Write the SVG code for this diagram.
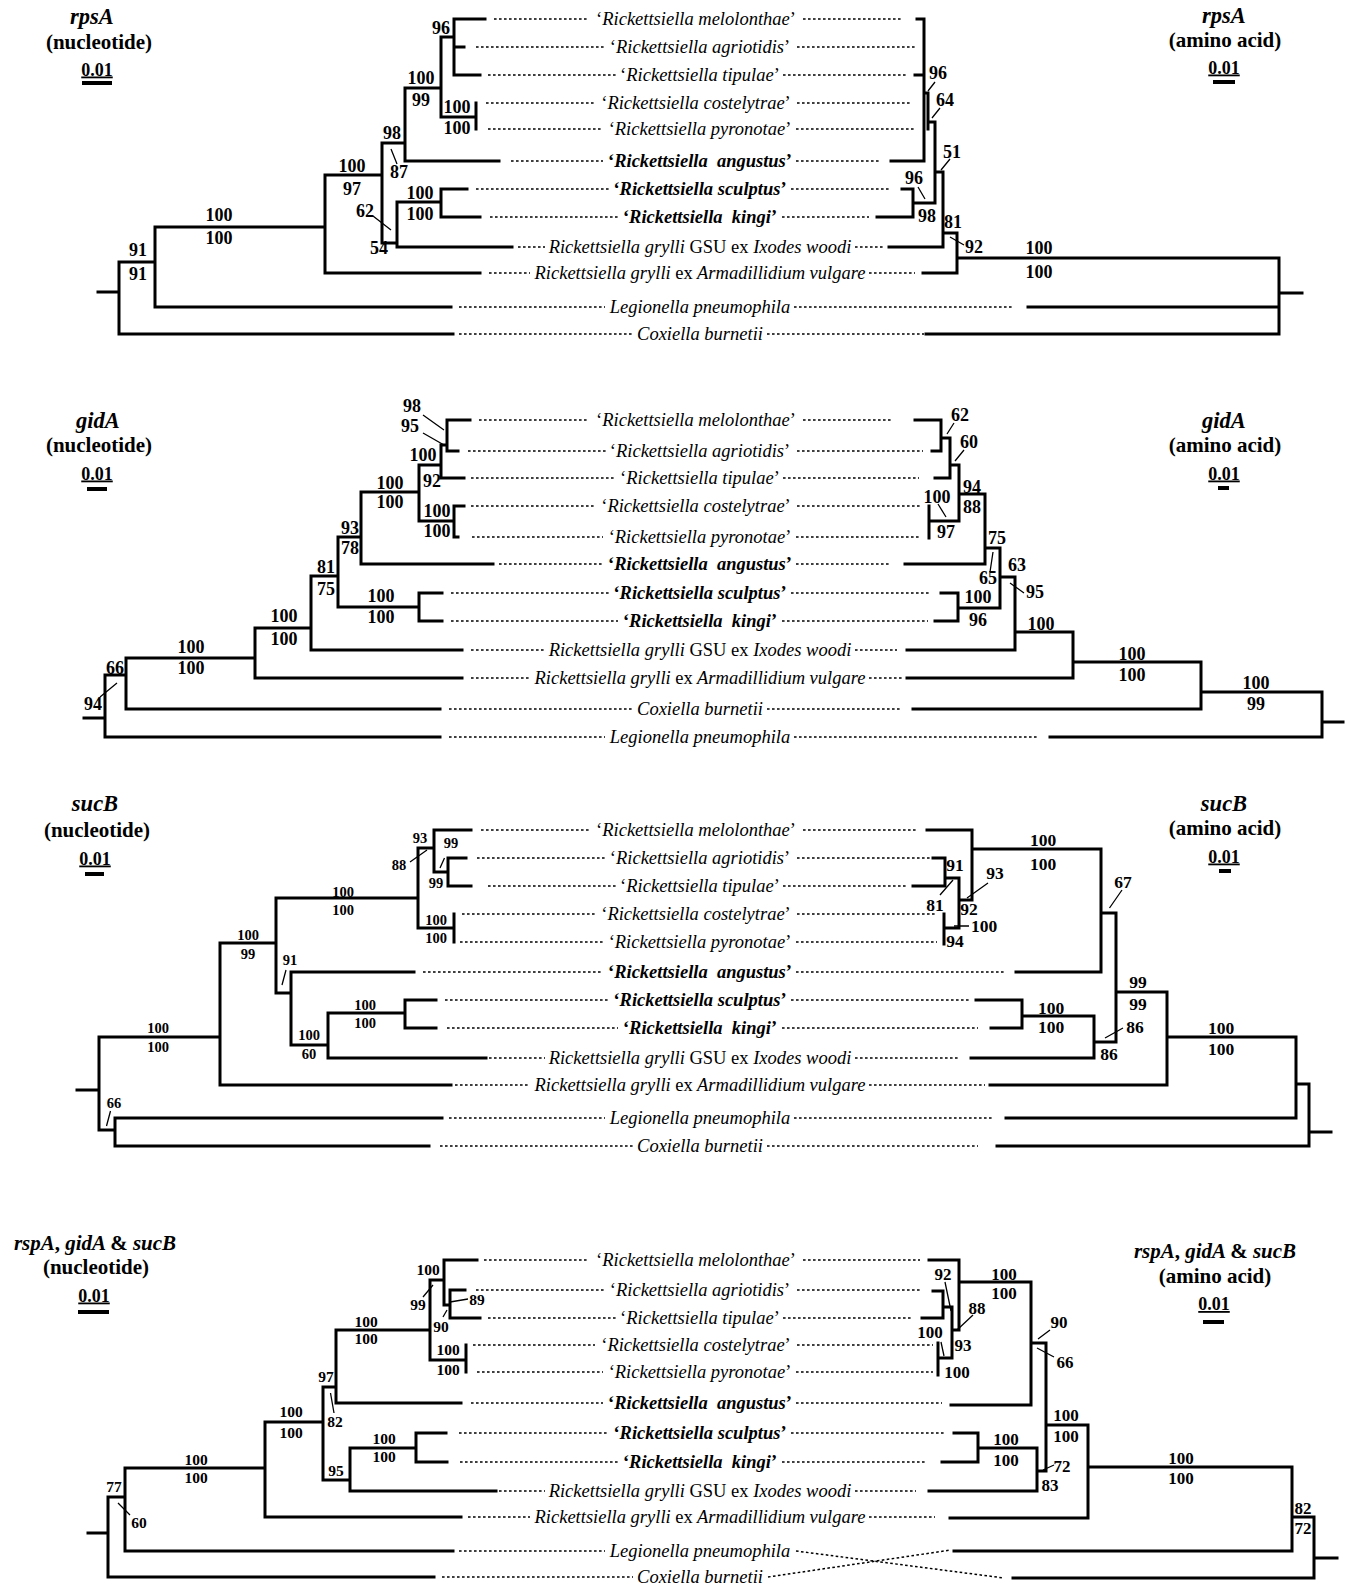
<svg xmlns="http://www.w3.org/2000/svg" width="1351" height="1584" viewBox="0 0 1351 1584">
<style>
.br{fill:none;stroke:#000;stroke-width:3;stroke-linecap:square}
.dt{fill:none;stroke:#000;stroke-width:1.5;stroke-dasharray:2.6 2.4}
.ld{fill:none;stroke:#000;stroke-width:1.3}
.bar{stroke:#000;stroke-width:4}
.tx{font-family:"Liberation Serif","Times New Roman",serif;font-size:18.5px;font-style:italic;text-anchor:middle}
.b{font-weight:bold}
.up{font-style:normal}
.n{font-family:"Liberation Serif","Times New Roman",serif;font-weight:bold;font-size:18px;text-anchor:middle}
.n3{font-size:14.5px}
.n4{font-size:15.5px}
.n4r{font-size:17px}
.n3r{font-size:17.5px}
.ti{font-family:"Liberation Serif","Times New Roman",serif;font-weight:bold;font-size:21px;text-anchor:middle}
.it{font-style:italic}
.gn{font-size:22.5px}
.sc{font-family:"Liberation Serif","Times New Roman",serif;font-weight:bold;font-size:18px;text-anchor:middle;text-decoration:underline}
</style>
<rect width="1351" height="1584" fill="#fff"/>

<!-- ================= PANEL 1 : rpsA ================= -->
<g id="panel-rpsA">
<g id="p1-titles">
<text class="ti it gn" x="92" y="24">rpsA</text>
<text class="ti" x="99" y="49">(nucleotide)</text>
<text class="sc" x="97" y="75.5">0.01</text>
<line class="bar" x1="82" y1="83" x2="112" y2="83"/>
<text class="ti it gn" x="1224" y="23">rpsA</text>
<text class="ti" x="1225" y="47">(amino acid)</text>
<text class="sc" x="1224" y="73.5">0.01</text>
<line class="bar" x1="1213" y1="82" x2="1235" y2="82"/>
</g>
<g id="p1-connectors">
<path class="br" d="M98 292H119 M119 262V334 M119 334H453 M119 262H155 M155 227V307 M155 307H451 M155 227H325 M325 175V273 M325 273H480 M325 175H382 M382 143V243 M382 243H397 M397 202V247 M397 247H512 M397 202H441 M441 189V217 M441 189H467 M441 217H480 M382 143H405 M405 88V161 M405 161H499 M405 88H441 M441 37V117 M441 117H476 M476 103V129 M441 37H454 M454 19V75 M454 19H485 M454 47H464 M454 75H480"/>
<path class="br" d="M917 19H924 M924 19V161 M915 75H924 M891 161H924 M924 93H928 M928 93V129 M928 122H935 M935 122V203 M913 203H935 M913 189V217 M902 189H913 M877 217H913 M935 172H943 M943 172V247 M889 247H943 M943 233H957 M957 233V273 M923 273H957 M957 258H1279 M1279 258V334 M1028 307H1279 M926 334H1279 M1279 293H1302"/>
<path class="dt" d="M494 19H589 M803 19H902 M476 47H606 M797 47H917 M488 75H616 M783 75H907 M486 103H595 M797 103H911 M488 129H603 M796 129H915 M511 161H603 M796 161H880 M476 189H609 M791 189H889 M490 217H618 M782 217H869 M518 247H545 M855 247H885 M489 273H530 M869 273H915 M459 307H605 M794 307H1013 M459 334H633 M767 334H924"/>
<path class="ld" d="M391 149L397 164 M373 216L391 230 M935 82L928 91 M940 108L932 118 M950 159L941 170 M918 187L925 199 M950 237L964 245"/>
</g>
<g id="p1-taxa">
<g id="p1-mel"><text class="tx" x="696" y="25"><tspan class="up">‘</tspan>Rickettsiella melolonthae<tspan class="up">’</tspan></text></g>
<g id="p1-agr"><text class="tx" x="700" y="53"><tspan class="up">‘</tspan>Rickettsiella agriotidis<tspan class="up">’</tspan></text></g>
<g id="p1-tip"><text class="tx" x="700" y="81"><tspan class="up">‘</tspan>Rickettsiella tipulae<tspan class="up">’</tspan></text></g>
<g id="p1-cos"><text class="tx" x="696" y="109"><tspan class="up">‘</tspan>Rickettsiella costelytrae<tspan class="up">’</tspan></text></g>
<g id="p1-pyr"><text class="tx" x="700" y="135"><tspan class="up">‘</tspan>Rickettsiella pyronotae<tspan class="up">’</tspan></text></g>
<g id="p1-ang"><text class="tx b" x="700" y="167"><tspan class="up">‘</tspan>Rickettsiella&#160; angustus<tspan class="up">’</tspan></text></g>
<g id="p1-scu"><text class="tx b" x="700" y="195"><tspan class="up">‘</tspan>Rickettsiella sculptus<tspan class="up">’</tspan></text></g>
<g id="p1-kin"><text class="tx b" x="700" y="223"><tspan class="up">‘</tspan>Rickettsiella&#160; kingi<tspan class="up">’</tspan></text></g>
<g id="p1-gsu"><text class="tx" x="700" y="253">Rickettsiella grylli <tspan class="up">GSU ex</tspan> Ixodes woodi</text></g>
<g id="p1-arm"><text class="tx" x="700" y="279">Rickettsiella grylli <tspan class="up">ex</tspan> Armadillidium vulgare</text></g>
<g id="p1-leg"><text class="tx" x="700" y="313">Legionella pneumophila</text></g>
<g id="p1-cox"><text class="tx" x="700" y="340">Coxiella burnetii</text></g>
</g>
<g id="p1-support">
<text class="n" x="138" y="256">91</text><text class="n" x="138" y="280">91</text>
<text class="n" x="219" y="221">100</text><text class="n" x="219" y="244">100</text>
<text class="n" x="352" y="172">100</text><text class="n" x="352" y="195">97</text>
<text class="n" x="392" y="139">98</text><text class="n" x="399" y="178">87</text>
<text class="n" x="365" y="217">62</text><text class="n" x="379" y="254">54</text>
<text class="n" x="420" y="199">100</text><text class="n" x="420" y="220">100</text>
<text class="n" x="421" y="84">100</text><text class="n" x="421" y="106">99</text>
<text class="n" x="457" y="113">100</text><text class="n" x="457" y="134">100</text>
<text class="n" x="441" y="34">96</text>
<text class="n" x="938" y="79">96</text>
<text class="n" x="945" y="106">64</text>
<text class="n" x="952" y="158">51</text>
<text class="n" x="914" y="184">96</text>
<text class="n" x="927" y="222">98</text>
<text class="n" x="953" y="228">81</text>
<text class="n" x="974" y="253">92</text>
<text class="n" x="1039" y="254">100</text><text class="n" x="1039" y="278">100</text>
</g>
</g>

<!-- ================= PANEL 2 : gidA ================= -->
<g id="panel-gidA">
<g id="p2-titles">
<text class="ti it gn" x="98" y="428">gidA</text>
<text class="ti" x="99" y="452">(nucleotide)</text>
<text class="sc" x="97" y="479.5">0.01</text>
<line class="bar" x1="87" y1="489" x2="107" y2="489"/>
<text class="ti it gn" x="1224" y="428">gidA</text>
<text class="ti" x="1225" y="452">(amino acid)</text>
<text class="sc" x="1224" y="479.5">0.01</text>
<line class="bar" x1="1218" y1="488" x2="1229" y2="488"/>
</g>
<g id="p2-connectors">
<path class="br" d="M84 718H105 M105 675V737 M105 737H440 M105 675H126 M126 658V709 M126 709H440 M126 658H255 M255 628V678 M255 678H462 M255 628H311 M311 576V650 M311 650H462 M311 576H338 M338 537V607 M338 607H419 M419 593V621 M419 593H442 M419 621H442 M338 537H361 M361 492V564 M361 564H493 M361 492H419 M419 465V521 M419 521H454 M454 506V537 M454 506H464 M454 537H458 M419 465H441 M441 445V478 M441 478H464 M441 445H447 M447 420V451 M447 420H470 M447 451H458"/>
<path class="br" d="M915 420H941 M941 420V451 M932 451H941 M941 438H950 M950 438V478 M935 478H950 M950 465H959 M959 465V521 M929 506V538 M929 521H959 M959 494H985 M985 494V564 M905 564H985 M985 548H1000 M1000 548V608 M941 593H958 M935 621H958 M958 593V621 M958 608H1000 M1000 577H1015 M1015 577V650 M907 650H1015 M1015 632H1073 M1073 632V678 M907 678H1073 M1073 662H1201 M1201 662V709 M913 709H1201 M1201 692H1322 M1322 692V737 M1050 737H1322 M1322 722H1343"/>
<path class="dt" d="M479 420H589 M803 420H893 M468 451H606 M797 451H923 M471 478H616 M783 478H919 M471 506H595 M797 506H920 M472 537H603 M796 537H920 M499 564H603 M796 564H891 M451 593H609 M791 593H930 M451 621H618 M782 621H928 M471 650H545 M855 650H897 M471 678H530 M869 678H902 M449 709H633 M767 709H902 M449 737H605 M794 737H1039"/>
<path class="ld" d="M100 697L117 683 M423 415L444 430 M423 433L444 445 M954 423L947 434 M964 450L955 461 M938 504L946 517 M993 552L990 572 M1010 583L1024 593"/>
</g>
<g id="p2-taxa">
<g id="p2-mel"><text class="tx" x="696" y="426"><tspan class="up">‘</tspan>Rickettsiella melolonthae<tspan class="up">’</tspan></text></g>
<g id="p2-agr"><text class="tx" x="700" y="457"><tspan class="up">‘</tspan>Rickettsiella agriotidis<tspan class="up">’</tspan></text></g>
<g id="p2-tip"><text class="tx" x="700" y="484"><tspan class="up">‘</tspan>Rickettsiella tipulae<tspan class="up">’</tspan></text></g>
<g id="p2-cos"><text class="tx" x="696" y="512"><tspan class="up">‘</tspan>Rickettsiella costelytrae<tspan class="up">’</tspan></text></g>
<g id="p2-pyr"><text class="tx" x="700" y="543"><tspan class="up">‘</tspan>Rickettsiella pyronotae<tspan class="up">’</tspan></text></g>
<g id="p2-ang"><text class="tx b" x="700" y="570"><tspan class="up">‘</tspan>Rickettsiella&#160; angustus<tspan class="up">’</tspan></text></g>
<g id="p2-scu"><text class="tx b" x="700" y="599"><tspan class="up">‘</tspan>Rickettsiella sculptus<tspan class="up">’</tspan></text></g>
<g id="p2-kin"><text class="tx b" x="700" y="627"><tspan class="up">‘</tspan>Rickettsiella&#160; kingi<tspan class="up">’</tspan></text></g>
<g id="p2-gsu"><text class="tx" x="700" y="656">Rickettsiella grylli <tspan class="up">GSU ex</tspan> Ixodes woodi</text></g>
<g id="p2-arm"><text class="tx" x="700" y="684">Rickettsiella grylli <tspan class="up">ex</tspan> Armadillidium vulgare</text></g>
<g id="p2-cox"><text class="tx" x="700" y="715">Coxiella burnetii</text></g>
<g id="p2-leg"><text class="tx" x="700" y="743">Legionella pneumophila</text></g>
</g>
<g id="p2-support">
<text class="n" x="115" y="674">66</text><text class="n" x="93" y="710">94</text>
<text class="n" x="191" y="653">100</text><text class="n" x="191" y="674">100</text>
<text class="n" x="284" y="622">100</text><text class="n" x="284" y="645">100</text>
<text class="n" x="326" y="573">81</text><text class="n" x="326" y="595">75</text>
<text class="n" x="381" y="602">100</text><text class="n" x="381" y="623">100</text>
<text class="n" x="350" y="534">93</text><text class="n" x="350" y="554">78</text>
<text class="n" x="390" y="489">100</text><text class="n" x="390" y="508">100</text>
<text class="n" x="423" y="461">100</text><text class="n" x="432" y="487">92</text>
<text class="n" x="437" y="517">100</text><text class="n" x="437" y="537">100</text>
<text class="n" x="412" y="412">98</text><text class="n" x="410" y="432">95</text>
<text class="n" x="960" y="421">62</text>
<text class="n" x="969" y="448">60</text>
<text class="n" x="937" y="503">100</text><text class="n" x="946" y="538">97</text>
<text class="n" x="972" y="493">94</text><text class="n" x="972" y="513">88</text>
<text class="n" x="997" y="544">75</text><text class="n" x="988" y="584">65</text>
<text class="n" x="978" y="603">100</text><text class="n" x="978" y="626">96</text>
<text class="n" x="1017" y="571">63</text><text class="n" x="1035" y="598">95</text>
<text class="n" x="1041" y="630">100</text>
<text class="n" x="1132" y="660">100</text><text class="n" x="1132" y="681">100</text>
<text class="n" x="1256" y="689">100</text><text class="n" x="1256" y="710">99</text>
</g>
</g>

<!-- ================= PANEL 3 : sucB ================= -->
<g id="panel-sucB">
<g id="p3-titles">
<text class="ti it gn" x="95" y="811">sucB</text>
<text class="ti" x="97" y="837">(nucleotide)</text>
<text class="sc" x="95" y="864.5">0.01</text>
<line class="bar" x1="85" y1="874" x2="104" y2="874"/>
<text class="ti it gn" x="1224" y="811">sucB</text>
<text class="ti" x="1225" y="835">(amino acid)</text>
<text class="sc" x="1224" y="862.5">0.01</text>
<line class="bar" x1="1219" y1="871" x2="1231" y2="871"/>
</g>
<g id="p3-connectors">
<path class="br" d="M77 1090H99 M99 1037V1130 M99 1037H220 M99 1130H115 M115 1118V1146 M115 1118H442 M115 1146H429 M220 943V1085 M220 1085H451 M220 943H276 M276 898V993 M276 898H418 M276 993H291 M291 972V1045 M291 972H414 M291 1045H328 M328 1013V1058 M328 1058H486 M328 1013H405 M405 1000V1028 M405 1000H436 M405 1028H436 M418 848V928 M418 928H454 M454 914V942 M418 848H434 M434 830V872 M434 830H471 M434 872H448 M448 858V886 M448 858H466 M448 886H471"/>
<path class="br" d="M927 830H972 M972 830V900 M972 849H1101 M959 900H972 M959 878V928 M945 878H959 M945 858V886 M933 858H945 M913 886H945 M944 928H959 M944 914V944 M1101 849V972 M1016 972H1101 M1101 913H1116 M1116 913V1042 M976 1000H1022 M991 1028H1022 M1022 1000V1028 M1022 1016H1094 M1094 1016V1058 M971 1058H1094 M1094 1042H1116 M1116 992H1167 M1167 992V1085 M990 1085H1167 M1167 1037H1296 M1296 1037V1118 M1006 1118H1296 M1296 1084H1309 M1309 1084V1146 M997 1146H1309 M1309 1132H1331"/>
<path class="dt" d="M481 830H589 M803 830H918 M477 858H606 M797 858H933 M488 886H616 M783 886H907 M462 914H595 M797 914H935 M460 942H603 M796 942H937 M423 972H603 M796 972H1004 M445 1000H609 M791 1000H971 M447 1028H618 M782 1028H978 M489 1058H545 M855 1058H958 M455 1085H530 M869 1085H985 M449 1118H605 M794 1118H994 M440 1146H633 M767 1146H978"/>
<path class="ld" d="M110.5 1111L106.5 1126 M286 970L282 985 M410 862L427 850 M444.5 858L440 868 M940 895L953 880 M988 883L967 898 M954 926L969 926 M1122 890L1109.5 908 M1123 1028L1105 1038"/>
</g>
<g id="p3-taxa">
<g id="p3-mel"><text class="tx" x="696" y="836"><tspan class="up">‘</tspan>Rickettsiella melolonthae<tspan class="up">’</tspan></text></g>
<g id="p3-agr"><text class="tx" x="700" y="864"><tspan class="up">‘</tspan>Rickettsiella agriotidis<tspan class="up">’</tspan></text></g>
<g id="p3-tip"><text class="tx" x="700" y="892"><tspan class="up">‘</tspan>Rickettsiella tipulae<tspan class="up">’</tspan></text></g>
<g id="p3-cos"><text class="tx" x="696" y="920"><tspan class="up">‘</tspan>Rickettsiella costelytrae<tspan class="up">’</tspan></text></g>
<g id="p3-pyr"><text class="tx" x="700" y="948"><tspan class="up">‘</tspan>Rickettsiella pyronotae<tspan class="up">’</tspan></text></g>
<g id="p3-ang"><text class="tx b" x="700" y="978"><tspan class="up">‘</tspan>Rickettsiella&#160; angustus<tspan class="up">’</tspan></text></g>
<g id="p3-scu"><text class="tx b" x="700" y="1006"><tspan class="up">‘</tspan>Rickettsiella sculptus<tspan class="up">’</tspan></text></g>
<g id="p3-kin"><text class="tx b" x="700" y="1034"><tspan class="up">‘</tspan>Rickettsiella&#160; kingi<tspan class="up">’</tspan></text></g>
<g id="p3-gsu"><text class="tx" x="700" y="1064">Rickettsiella grylli <tspan class="up">GSU ex</tspan> Ixodes woodi</text></g>
<g id="p3-arm"><text class="tx" x="700" y="1091">Rickettsiella grylli <tspan class="up">ex</tspan> Armadillidium vulgare</text></g>
<g id="p3-leg"><text class="tx" x="700" y="1124">Legionella pneumophila</text></g>
<g id="p3-cox"><text class="tx" x="700" y="1152">Coxiella burnetii</text></g>
</g>
<g id="p3-support">
<text class="n n3" x="158" y="1033">100</text><text class="n n3" x="158" y="1052">100</text>
<text class="n n3" x="114" y="1108">66</text>
<text class="n n3" x="248" y="940">100</text><text class="n n3" x="248" y="959">99</text>
<text class="n n3" x="343" y="897">100</text><text class="n n3" x="343" y="915">100</text>
<text class="n n3" x="290" y="965">91</text>
<text class="n n3" x="309" y="1040">100</text><text class="n n3" x="309" y="1059">60</text>
<text class="n n3" x="365" y="1010">100</text><text class="n n3" x="365" y="1028">100</text>
<text class="n n3" x="436" y="925">100</text><text class="n n3" x="436" y="943">100</text>
<text class="n n3" x="420" y="843">93</text><text class="n n3" x="399" y="870">88</text>
<text class="n n3" x="451" y="848">99</text><text class="n n3" x="436" y="888">99</text>
<text class="n n3r" x="1043" y="846">100</text><text class="n n3r" x="1043" y="870">100</text>
<text class="n n3r" x="955" y="871">91</text>
<text class="n n3r" x="935" y="911">81</text>
<text class="n n3r" x="995" y="879">93</text>
<text class="n n3r" x="969" y="915">92</text>
<text class="n n3r" x="984" y="932">100</text>
<text class="n n3r" x="955" y="947">94</text>
<text class="n n3r" x="1123" y="888">67</text>
<text class="n n3r" x="1051" y="1014">100</text><text class="n n3r" x="1051" y="1033">100</text>
<text class="n n3r" x="1135" y="1033">86</text>
<text class="n n3r" x="1109" y="1060">86</text>
<text class="n n3r" x="1138" y="988">99</text><text class="n n3r" x="1138" y="1010">99</text>
<text class="n n3r" x="1221" y="1034">100</text><text class="n n3r" x="1221" y="1055">100</text>
</g>
</g>

<!-- ================= PANEL 4 : combined ================= -->
<g id="panel-combined">
<g id="p4-titles">
<text class="ti it" x="95" y="1250">rspA<tspan class="up">,</tspan> gidA <tspan class="up">&amp;</tspan> sucB</text>
<text class="ti" x="96" y="1274">(nucleotide)</text>
<text class="sc" x="94" y="1301.5">0.01</text>
<line class="bar" x1="78" y1="1312" x2="109" y2="1312"/>
<text class="ti it" x="1215" y="1258">rspA<tspan class="up">,</tspan> gidA <tspan class="up">&amp;</tspan> sucB</text>
<text class="ti" x="1215" y="1283">(amino acid)</text>
<text class="sc" x="1214" y="1310">0.01</text>
<line class="bar" x1="1203" y1="1322" x2="1224" y2="1322"/>
</g>
<g id="p4-connectors">
<path class="br" d="M88 1533H108 M108 1497V1577 M108 1577H434 M108 1497H125 M125 1468V1551 M125 1551H453 M125 1468H265 M265 1422V1517 M265 1517H461 M265 1422H323 M323 1387V1480 M323 1480H350 M350 1448V1491 M350 1491H496 M350 1448H416 M416 1433V1462 M416 1433H446 M416 1462H447 M323 1387H336 M336 1330V1403 M336 1403H461 M336 1330H430 M430 1280V1360 M430 1360H466 M466 1345V1372 M430 1280H444 M444 1260V1305 M444 1260H477 M444 1305H450 M450 1290V1318 M450 1290H465 M450 1318H480"/>
<path class="br" d="M929 1260H959 M959 1260V1330 M959 1282H1031 M933 1291H943 M943 1291V1318 M922 1318H943 M943 1307H952 M952 1307V1358 M952 1330H959 M938 1358H952 M938 1343V1375 M1031 1282V1405 M951 1405H1031 M1031 1343H1046 M1046 1343V1471 M954 1433H978 M942 1462H978 M978 1433V1462 M978 1448H1037 M1037 1448V1491 M929 1491H1037 M1037 1471H1046 M1046 1425H1088 M1088 1425V1518 M950 1518H1088 M1088 1467H1292 M1292 1467V1551 M954 1551H1292 M1292 1517H1314 M1314 1517V1578 M1013 1578H1314 M1314 1558H1337"/>
<path class="dt" d="M484 1260H589 M803 1260H920 M476 1290H606 M797 1290H920 M488 1318H616 M783 1318H913 M473 1345H595 M797 1345H933 M477 1372H603 M796 1372H933 M471 1403H603 M796 1403H942 M459 1433H609 M791 1433H944 M460 1462H618 M782 1462H927 M499 1491H545 M855 1491H916 M468 1517H530 M869 1517H935 M459 1551H605 M796 1551L1004 1578 M442 1577H633 M768 1577L951 1550"/>
<path class="ld" d="M118 1503L130 1515 M330.5 1393L334 1413 M423 1297L433 1285 M450 1302L468 1299 M443 1317L447 1310 M945 1282L951 1311 M973 1315L957 1330 M941 1342L944 1356 M1050 1330L1038 1339 M1037 1348L1054 1357 M1043 1470L1054 1465"/>
</g>
<g id="p4-taxa">
<g id="p4-mel"><text class="tx" x="696" y="1266"><tspan class="up">‘</tspan>Rickettsiella melolonthae<tspan class="up">’</tspan></text></g>
<g id="p4-agr"><text class="tx" x="700" y="1296"><tspan class="up">‘</tspan>Rickettsiella agriotidis<tspan class="up">’</tspan></text></g>
<g id="p4-tip"><text class="tx" x="700" y="1324"><tspan class="up">‘</tspan>Rickettsiella tipulae<tspan class="up">’</tspan></text></g>
<g id="p4-cos"><text class="tx" x="696" y="1351"><tspan class="up">‘</tspan>Rickettsiella costelytrae<tspan class="up">’</tspan></text></g>
<g id="p4-pyr"><text class="tx" x="700" y="1378"><tspan class="up">‘</tspan>Rickettsiella pyronotae<tspan class="up">’</tspan></text></g>
<g id="p4-ang"><text class="tx b" x="700" y="1409"><tspan class="up">‘</tspan>Rickettsiella&#160; angustus<tspan class="up">’</tspan></text></g>
<g id="p4-scu"><text class="tx b" x="700" y="1439"><tspan class="up">‘</tspan>Rickettsiella sculptus<tspan class="up">’</tspan></text></g>
<g id="p4-kin"><text class="tx b" x="700" y="1468"><tspan class="up">‘</tspan>Rickettsiella&#160; kingi<tspan class="up">’</tspan></text></g>
<g id="p4-gsu"><text class="tx" x="700" y="1497">Rickettsiella grylli <tspan class="up">GSU ex</tspan> Ixodes woodi</text></g>
<g id="p4-arm"><text class="tx" x="700" y="1523">Rickettsiella grylli <tspan class="up">ex</tspan> Armadillidium vulgare</text></g>
<g id="p4-leg"><text class="tx" x="700" y="1557">Legionella pneumophila</text></g>
<g id="p4-cox"><text class="tx" x="700" y="1583">Coxiella burnetii</text></g>
</g>
<g id="p4-support">
<text class="n n4" x="114" y="1492">77</text><text class="n n4" x="139" y="1528">60</text>
<text class="n n4" x="196" y="1465">100</text><text class="n n4" x="196" y="1483">100</text>
<text class="n n4" x="291" y="1417">100</text><text class="n n4" x="291" y="1438">100</text>
<text class="n n4" x="336" y="1476">95</text>
<text class="n n4" x="384" y="1444">100</text><text class="n n4" x="384" y="1462">100</text>
<text class="n n4" x="326" y="1382">97</text><text class="n n4" x="335" y="1427">82</text>
<text class="n n4" x="366" y="1327">100</text><text class="n n4" x="366" y="1344">100</text>
<text class="n n4" x="448" y="1355">100</text><text class="n n4" x="448" y="1375">100</text>
<text class="n n4" x="428" y="1275">100</text><text class="n n4" x="418" y="1310">99</text>
<text class="n n4" x="477" y="1305">89</text>
<text class="n n4" x="441" y="1332">90</text>
<text class="n n4r" x="1004" y="1280">100</text><text class="n n4r" x="1004" y="1299">100</text>
<text class="n n4r" x="943" y="1280">92</text>
<text class="n n4r" x="977" y="1314">88</text>
<text class="n n4r" x="930" y="1338">100</text>
<text class="n n4r" x="963" y="1351">93</text>
<text class="n n4r" x="957" y="1378">100</text>
<text class="n n4r" x="1059" y="1328">90</text>
<text class="n n4r" x="1065" y="1368">66</text>
<text class="n n4r" x="1066" y="1421">100</text><text class="n n4r" x="1066" y="1442">100</text>
<text class="n n4r" x="1006" y="1445">100</text><text class="n n4r" x="1006" y="1466">100</text>
<text class="n n4r" x="1062" y="1472">72</text>
<text class="n n4r" x="1050" y="1491">83</text>
<text class="n n4r" x="1181" y="1464">100</text><text class="n n4r" x="1181" y="1484">100</text>
<text class="n n4r" x="1303" y="1514">82</text><text class="n n4r" x="1303" y="1534">72</text>
</g>
</g>
</svg>
